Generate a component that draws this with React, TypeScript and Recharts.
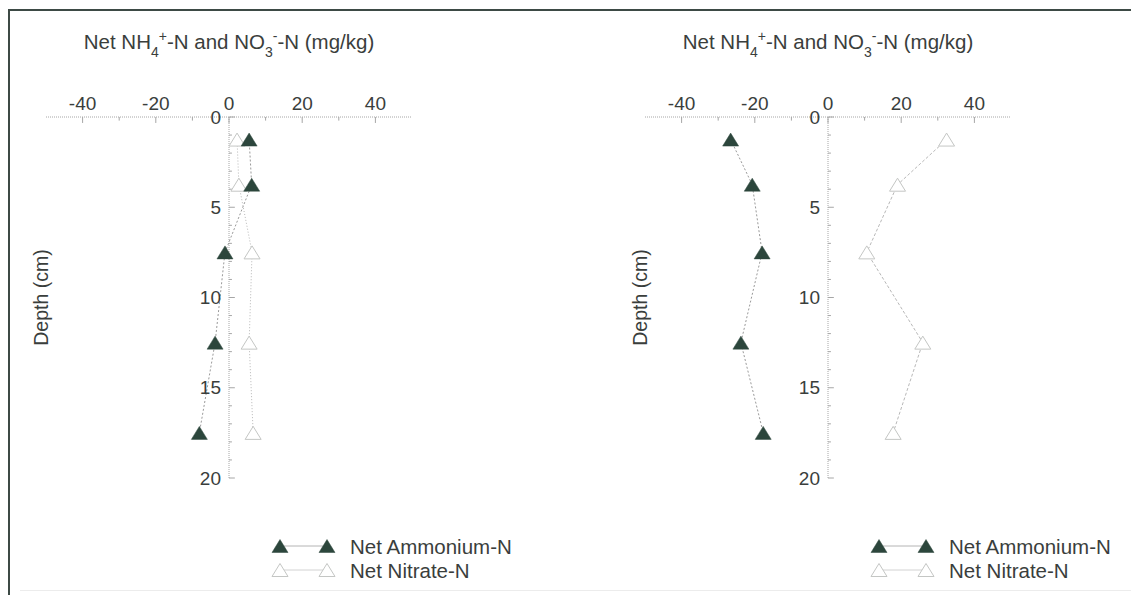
import React from 'react';
import { ScatterChart, Scatter, XAxis, YAxis, ReferenceLine, Legend } from 'recharts';

// Sampling depths (cm) for each core interval
const depths = [1.25, 3.75, 7.5, 12.5, 17.5];

// Net mineralisation (mg/kg), left profile
const leftAmmonium = [5.5, 6.2, -1.1, -3.8, -8.1];
const leftNitrate = [2.2, 2.7, 6.3, 5.5, 6.6];

// Net mineralisation (mg/kg), right profile
const rightAmmonium = [-26.6, -20.7, -18.0, -23.8, -17.7];
const rightNitrate = [32.4, 19.0, 10.6, 25.9, 17.8];

const xTicks = [-40, -30, -20, -10, 0, 10, 20, 30, 40];
const depthTicks = [0, 1, 2, 3, 4, 5, 6, 7, 8, 9, 10, 11, 12, 13, 14, 15, 16, 17, 18, 19, 20];
const depthLabels = [0, 5, 10, 15, 20];

const FONT = '"Liberation Sans", Arial, Helvetica, sans-serif';
const TEXT = '#3a3e3c';
const DARK = '#2c463c';
const HOLLOW = '#c4c6c4';
const AXIS = '#a6a6a6';

function Triangle(props: any) {
  const { cx, cy, filled } = props;
  if (cx == null || cy == null) return null;
  const w = 8;
  const h = 6.5;
  const pts = `${cx - w},${cy + h} ${cx + w},${cy + h} ${cx},${cy - h}`;
  return filled ? (
    <polygon points={pts} fill={DARK} stroke={DARK} strokeWidth={0.5} />
  ) : (
    <polygon points={pts} fill="#fff" stroke={HOLLOW} strokeWidth={1} />
  );
}

function Title(props: any) {
  const vb = props.viewBox || { x: 46, y: 87, width: 366 };
  const cx = vb.x + vb.width / 2;
  return (
    <text x={cx} y={vb.y - 38} textAnchor="middle" fill={TEXT} fontSize={20.5} fontFamily={FONT}>
      Net NH
      <tspan fontSize={14} baselineShift="sub">4</tspan>
      <tspan fontSize={14} baselineShift="super">+</tspan>
      -N and NO
      <tspan fontSize={14} baselineShift="sub">3</tspan>
      <tspan fontSize={14} baselineShift="super">-</tspan>
      -N (mg/kg)
    </text>
  );
}

function DepthLabel(props: any) {
  const vb = props.viewBox || { x: 45, y: 117, height: 361 };
  const x = vb.x - 4;
  const y = vb.y + vb.height / 2;
  return (
    <text
      x={x}
      y={y}
      transform={`rotate(-90, ${x}, ${y})`}
      textAnchor="middle"
      dominantBaseline="central"
      fill={TEXT}
      fontSize={19.5}
      fontFamily={FONT}
    >
      Depth (cm)
    </text>
  );
}

function LegendBox() {
  const rows = [
    { label: 'Net Ammonium-N', filled: true, y: 16 },
    { label: 'Net Nitrate-N', filled: false, y: 40 },
  ];
  return (
    <svg width={250} height={56}>
      {rows.map((r) => (
        <g key={r.label}>
          <line x1={10} x2={57} y1={r.y} y2={r.y} stroke={r.filled ? '#b4b4b4' : '#d2d2d2'} strokeWidth={1} />
          <Triangle cx={10} cy={r.y} filled={r.filled} />
          <Triangle cx={57} cy={r.y} filled={r.filled} />
          <text x={80} y={r.y} dominantBaseline="central" fill={TEXT} fontSize={20.5} fontFamily={FONT}>
            {r.label}
          </text>
        </g>
      ))}
    </svg>
  );
}

function Panel({ ammonium, nitrate, left, nitrateDash }: { ammonium: number[]; nitrate: number[]; left: number; nitrateDash: string }) {
  const ammData = depths.map((d, i) => ({ x: ammonium[i], y: d }));
  const nitData = depths.map((d, i) => ({ x: nitrate[i], y: d }));

  return (
    <div style={{ position: 'absolute', left, top: 0 }}>
      <ScatterChart width={530} height={595} margin={{ top: 87, right: 118, bottom: 117, left: 45 }}>
        <XAxis
          type="number"
          dataKey="x"
          orientation="top"
          domain={[-50, 50]}
          ticks={xTicks}
          interval={0}
          tickFormatter={(v: number) => (v % 20 === 0 ? String(v) : '')}
          tickSize={0}
          tickMargin={7}
          tickLine={false}
          axisLine={{ stroke: AXIS, strokeDasharray: '1 1' }}
          tick={{ fill: TEXT, fontSize: 19, fontFamily: FONT }}
          height={30}
          label={<Title />}
        />
        <YAxis
          type="number"
          dataKey="y"
          domain={[0, 20]}
          reversed
          width={1}
          axisLine={false}
          tickLine={false}
          tick={false}
          label={<DepthLabel />}
        />

        {/* vertical depth axis through x = 0 */}
        <ReferenceLine x={0} stroke={AXIS} strokeDasharray="1 1" />
        {depthTicks.map((d) => (
          <ReferenceLine
            key={`dt-${d}`}
            segment={[{ x: 0, y: d }, { x: d % 5 === 0 ? 1.6 : 0.8, y: d }]}
            stroke={AXIS}
          />
        ))}
        {depthLabels.map((d) => (
          <ReferenceLine
            key={`dl-${d}`}
            segment={[{ x: 0, y: d }, { x: 0.1, y: d }]}
            stroke="none"
            label={{ value: String(d), position: 'left', offset: 8, fill: TEXT, fontSize: 19, fontFamily: FONT }}
          />
        ))}
        {xTicks.map((v) => (
          <ReferenceLine
            key={`xt-${v}`}
            segment={[{ x: v, y: 0 }, { x: v, y: v % 20 === 0 ? 0.33 : 0.2 }]}
            stroke={AXIS}
          />
        ))}

        <Scatter
          name="Net Nitrate-N"
          data={nitData}
          line={{ stroke: '#b8b8b8', strokeWidth: 1, strokeDasharray: nitrateDash }}
          shape={(p: any) => <Triangle {...p} filled={false} />}
          isAnimationActive={false}
        />
        <Scatter
          name="Net Ammonium-N"
          data={ammData}
          line={{ stroke: '#9a9a9a', strokeWidth: 1, strokeDasharray: '2 2' }}
          shape={(p: any) => <Triangle {...p} filled />}
          isAnimationActive={false}
        />

        <Legend
          layout="horizontal"
          verticalAlign="middle"
          align="center"
          content={<LegendBox />}
          wrapperStyle={{ left: 270, top: 530, width: 250, height: 56 }}
        />
      </ScatterChart>
    </div>
  );
}

export default function App() {
  return (
    <div
      style={{
        position: 'fixed',
        left: 0,
        top: 0,
        width: 1131,
        height: 595,
        background: '#fff',
        overflow: 'hidden',
        fontFamily: FONT,
      }}
    >
      {/* frame: top and left rules only */}
      <div style={{ position: 'absolute', left: 8, top: 9, width: 1123, height: 2, background: '#3d4a45' }} />
      <div style={{ position: 'absolute', left: 8, top: 9, width: 2, height: 586, background: '#3d4a45' }} />
      <div style={{ position: 'absolute', left: 20, top: 590, width: 1111, height: 1, background: '#ececec' }} />
      <Panel ammonium={leftAmmonium} nitrate={leftNitrate} left={0} nitrateDash="1 2" />
      <Panel ammonium={rightAmmonium} nitrate={rightNitrate} left={599} nitrateDash="3 2" />
    </div>
  );
}
